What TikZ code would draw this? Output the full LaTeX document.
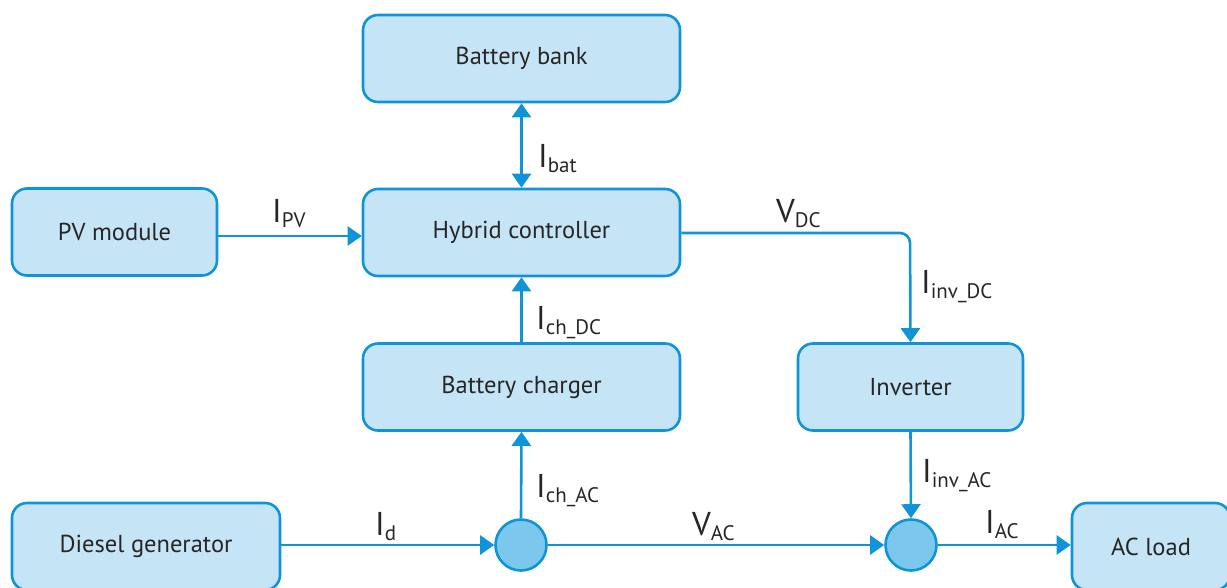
\documentclass[tikz,border=0pt]{standalone}
\usepackage{fontspec}
\setmainfont{PT Sans}
\usetikzlibrary{arrows.meta}
\definecolor{boxfill}{HTML}{C5E4F5}
\definecolor{boxline}{HTML}{1094D8}
\definecolor{circfill}{HTML}{7CC8EC}
\definecolor{txt}{HTML}{262626}
\newcommand{\sublab}[2]{\fontsize{33}{36}\selectfont #1\raisebox{-5pt}{\fontsize{21}{24}\selectfont #2}}
\tikzset{
  blk/.style={draw=boxline, fill=boxfill, line width=2.6pt, rounded corners=15pt,
    minimum height=87pt, inner sep=0pt, font=\fontsize{24.5}{27}\selectfont, text=txt},
  sumnode/.style={circle, draw=boxline, fill=circfill, line width=2.6pt, minimum size=51pt, inner sep=0pt},
  tip/.tip={Triangle[width=19pt,length=14pt]},
  conn/.style={draw=boxline, line width=2.6pt, -tip},
  lbl/.style={text=txt, inner sep=0pt, anchor=base west}
}
\begin{document}
\begin{tikzpicture}[x=1pt,y=-1pt]
\useasboundingbox (0,0) rectangle (1227,587);
\node[blk, minimum width=317pt] (bank) at (521.5,58.5) {Battery bank};
\node[blk, minimum width=317pt] (hyb) at (521.5,232.5) {Hybrid controller};
\node[blk, minimum width=205pt] (pv) at (114.5,232) {PV module};
\node[blk, minimum width=317pt] (chg) at (521.5,387) {Battery charger};
\node[blk, minimum width=225pt] (inv) at (910.5,387) {Inverter};
\node[blk, minimum width=268pt] (dg) at (146,546.5) {Diesel generator};
\node[blk, minimum width=158pt] (load) at (1151,546.5) {AC load};
\node[sumnode] (s1) at (521,545) {};
\node[sumnode] (s2) at (911,545) {};
\coordinate (corner) at (910,233);

\draw[conn, tip-tip] (bank.south) -- (hyb.north);
\draw[conn] (pv.east |- 0,236) -- (hyb.west |- 0,236);
\draw[conn, rounded corners=10pt] (hyb.east |- corner) -- (corner) -- (inv.north);
\draw[conn] (chg.north) -- (hyb.south);
\draw[conn] (s1.north) -- (chg.south);
\draw[conn] (dg.east |- s1) -- (s1.west);
\draw[conn] (s1.east) -- (s2.west);
\draw[conn] (inv.south) -- (s2.north);
\draw[conn] (s2.east) -- (load.west |- s2);

\node[lbl] (lbat) at (538,167) {\sublab{I}{bat}};
\node[lbl] (lpv) at (272,222) {\sublab{I}{PV}};
\node[lbl] (lvdc) at (776,222) {\sublab{V}{DC}};
\node[lbl] (linvdc) at (921,293) {\sublab{I}{inv\_DC}};
\node[lbl] (lchdc) at (536,329) {\sublab{I}{ch\_DC}};
\node[lbl] (lchac) at (536,497) {\sublab{I}{ch\_AC}};
\node[lbl] (ld) at (375,535) {\sublab{I}{d}};
\node[lbl] (lvac) at (692,535) {\sublab{V}{AC}};
\node[lbl] (linvac) at (922,482) {\sublab{I}{inv\_AC}};
\node[lbl] (lac) at (985,533) {\sublab{I}{AC}};
\end{tikzpicture}
\end{document}
